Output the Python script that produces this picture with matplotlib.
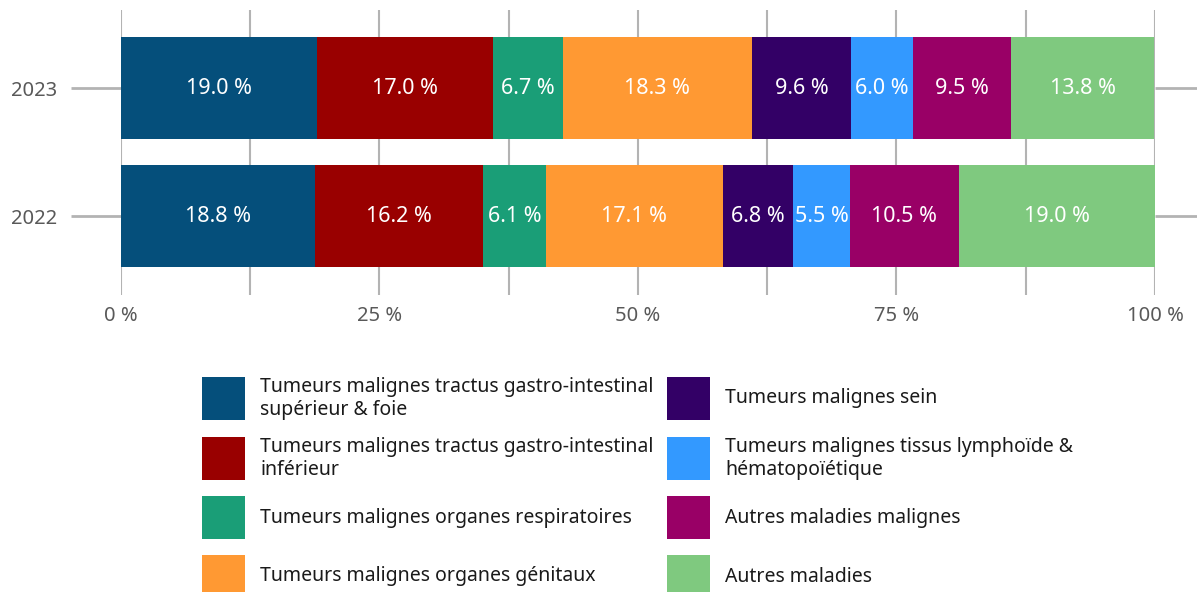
import matplotlib.pyplot as plt
from matplotlib.patches import Rectangle
import numpy as np

plt.rcParams['font.family'] = ['Noto Sans', 'DejaVu Sans']

years = ['2022', '2023']
categories = [
    'Tumeurs malignes tractus gastro-intestinal\nsupérieur & foie',
    'Tumeurs malignes tractus gastro-intestinal\ninférieur',
    'Tumeurs malignes organes respiratoires',
    'Tumeurs malignes organes génitaux',
    'Tumeurs malignes sein',
    'Tumeurs malignes tissus lymphoïde &\nhématopoïétique',
    'Autres maladies malignes',
    'Autres maladies',
]
values_2022 = [18.8, 16.2, 6.1, 17.1, 6.8, 5.5, 10.5, 19.0]
values_2023 = [19.0, 17.0, 6.7, 18.3, 9.6, 6.0, 9.5, 13.8]
colors = ['#054f7b', '#990000', '#1a9e77', '#ff9933',
          '#330066', '#3399ff', '#990066', '#7fc97f']

fig = plt.figure(figsize=(11.97, 5.92), dpi=100)
ax = fig.add_axes([121 / 1197, 1 - 295 / 592, (1155 - 121) / 1197, 285 / 592])

data = np.array([values_2022, values_2023])
y = np.arange(len(years))
left = np.zeros(len(years))
for i, cat in enumerate(categories):
    vals = data[:, i]
    bars = ax.barh(y, vals, left=left, height=0.8, color=colors[i], linewidth=0)
    for b, v in zip(bars, vals):
        ax.text(b.get_x() + b.get_width() / 2, b.get_y() + b.get_height() / 2,
                f'{v:.1f} %', ha='center', va='center', color='white', fontsize=15.5)
    left += vals

ax.set_xlim(0, 100)
ax.set_ylim(-0.617, 1.61)
ax.set_xticks([0, 25, 50, 75, 100])
ax.set_xticklabels(['0 %', '25 %', '50 %', '75 %', '100 %'])
ax.set_xticks(np.arange(12.5, 100, 25), minor=True)
ax.set_yticks(y)
ax.set_yticklabels(years)
ax.grid(axis='x', which='both', color='#b3b3b3', linewidth=1.5, zorder=0)
ax.set_axisbelow(True)
for s in ax.spines.values():
    s.set_visible(False)
ax.tick_params(axis='x', which='both', length=0, pad=8, labelsize=14.5, labelcolor='#595959')
ax.tick_params(axis='y', length=36, width=2, color='#b3b3b3', pad=10,
               labelsize=14.5, labelcolor='#595959', right=True)

# legend, two columns of four
sq = 43
rows_y = [377, 437, 496, 555]
cols_x = [202, 667]
for i, cat in enumerate(categories):
    col, row = divmod(i, 4)
    x0 = cols_x[col]
    y0 = rows_y[row]
    fig.add_artist(Rectangle((x0 / 1197, 1 - (y0 + sq) / 592), sq / 1197, sq / 592,
                             transform=fig.transFigure, facecolor=colors[i], linewidth=0))
    fig.text((x0 + 58) / 1197, 1 - (y0 + sq / 2) / 592, cat, ha='left', va='center',
             fontsize=14, color='#1a1a1a', linespacing=1.2)

fig.savefig('out.png', dpi=100)
